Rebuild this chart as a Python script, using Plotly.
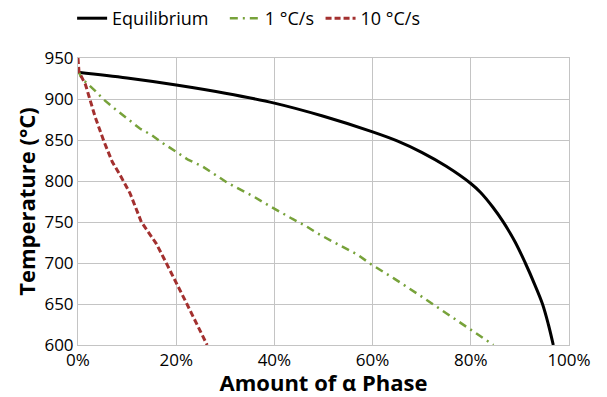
import plotly.graph_objects as go

# Equilibrium
eq_x = [0, 10, 20, 30, 40, 50, 60, 65, 70, 75, 80, 82, 84.5, 86.5, 89, 91.1, 93, 94.6, 95.8, 96.8]
eq_y = [932.5, 925.5, 917, 907, 895, 879, 860, 849, 835, 818, 797, 786, 768, 751, 726, 700, 674, 650, 625, 600]

# 1 °C/s
g_x = [0, 0.75, 3.5, 5.1, 7.5, 9.9, 12.6, 15, 17.3, 19.9, 22.4, 25.3, 27.8, 30.4, 32.9, 35.8, 38.3, 40.9,
       43.6, 46.3, 48.8, 51.6, 54.3, 57, 59.3, 62, 64.4, 70, 75, 80, 84.6]
g_y = [935, 925, 910, 900, 888, 876.5, 864, 856, 846, 836, 826, 818, 808.5, 798, 790, 781, 772, 763,
       754, 745.5, 736, 727, 718, 710, 700, 690, 681, 659, 639, 619, 600]

# 10 °C/s
r_x = [0, 0.2, 1.5, 3.5, 5.3, 7, 8.5, 10.6, 12.9, 14.6, 15.9, 17.3, 19.9, 22.1, 26.3]
r_y = [950, 933, 918, 878, 848, 823, 808, 785, 750, 736, 724, 708, 678, 651, 600]

x_ticks = [0, 20, 40, 60, 80, 100]
x_tick_labels = ["0%", "20%", "40%", "60%", "80%", "100%"]
y_ticks = [600, 650, 700, 750, 800, 850, 900, 950]

fig = go.Figure()
fig.add_trace(go.Scatter(x=eq_x, y=eq_y, mode="lines", name="Equilibrium", legend="legend",
                         line=dict(color="black", width=3, shape="spline", smoothing=1.0)))
fig.add_trace(go.Scatter(x=g_x, y=g_y, mode="lines", name="1 °C/s", legend="legend2",
                         line=dict(color="#77a23a", width=2.5, dash="8px,5px,2px,5px")))
fig.add_trace(go.Scatter(x=r_x, y=r_y, mode="lines", name="10 °C/s", legend="legend3",
                         line=dict(color="#a3302f", width=3, dash="6px,3px")))

font = "Open Sans, Liberation Sans, sans-serif"
leg_common = dict(orientation="h", xanchor="left", yref="container", y=1.0, yanchor="top",
                  font=dict(size=18), bgcolor="rgba(0,0,0,0)")
fig.update_layout(
    width=607, height=397,
    margin=dict(l=78, r=38, t=58, b=52),
    paper_bgcolor="white", plot_bgcolor="white",
    font=dict(family=font, size=17, color="black"),
    showlegend=True,
    legend=dict(x=-0.012, **leg_common),
    legend2=dict(x=0.299, **leg_common),
    legend3=dict(x=0.494, **leg_common),
    xaxis=dict(range=[0, 100], tickvals=x_ticks, ticktext=x_tick_labels,
               showgrid=True, gridcolor="#c4c4c4", gridwidth=1, automargin=False,
               showline=True, linecolor="#c4c4c4", mirror=True, zeroline=False,
               ticks="", ticklen=0,
               title=dict(text="<b>Amount of α Phase</b>", font=dict(size=22), standoff=6)),
    yaxis=dict(range=[600, 950], tickvals=y_ticks, automargin=False,
               showgrid=True, gridcolor="#c4c4c4", gridwidth=1,
               showline=True, linecolor="#c4c4c4", mirror=True, zeroline=False,
               ticks="", ticklen=0,
               title=dict(text="<b>Temperature (°C)</b>", font=dict(size=22), standoff=2)),
)
fig.write_html("out.html", config={"displayModeBar": False},
               post_script="document.body.style.margin='0px';document.body.style.overflow='hidden';")
